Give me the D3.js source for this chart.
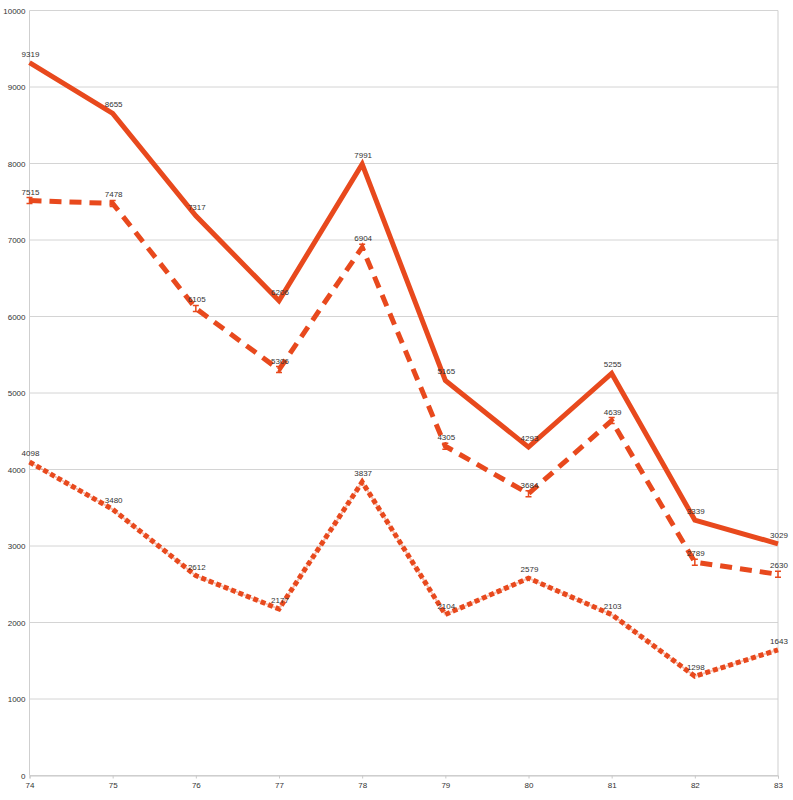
<!DOCTYPE html>
<html>
<head>
<meta charset="utf-8">
<script src="https://cdn.jsdelivr.net/npm/d3@7"></script>
<style>
  body { margin: 0; background: #fff; }
  text { font-family: "Liberation Sans", Arial, sans-serif; fill: #333; }
</style>
</head>
<body>
<div id="chart"></div>
<script>
// chart data
const years = ["74", "75", "76", "77", "78", "79", "80", "81", "82", "83"];
const seriesSolid = [9319, 8655, 7317, 6206, 7991, 5165, 4293, 5255, 3339, 3029];
const seriesDashed = [7515, 7478, 6105, 5306, 6904, 4305, 3684, 4639, 2789, 2630];
const seriesDotted = [4098, 3480, 2612, 2177, 3837, 2104, 2579, 2103, 1298, 1643];
const yTicks = [0, 1000, 2000, 3000, 4000, 5000, 6000, 7000, 8000, 9000, 10000];

const width = 793;
const height = 800;
const margin = { top: 10.5, right: 15, bottom: 24.5, left: 29.5 };
const color = "#e8491d";

const svg = d3.select("#chart").append("svg")
    .attr("width", width)
    .attr("height", height);

const x = d3.scalePoint()
    .domain(years)
    .range([margin.left, width - margin.right]);

const y = d3.scaleLinear()
    .domain([0, 10000])
    .range([height - margin.bottom, margin.top]);

// horizontal gridlines
svg.append("g")
    .selectAll("line")
    .data(yTicks)
    .enter()
    .append("line")
    .attr("x1", margin.left)
    .attr("x2", width - margin.right)
    .attr("y1", d => y(d))
    .attr("y2", d => y(d))
    .attr("stroke", "#d4d4d4")
    .attr("stroke-width", 1);

// left and right frame lines
svg.append("line")
    .attr("x1", margin.left).attr("x2", margin.left)
    .attr("y1", y(10000)).attr("y2", y(0))
    .attr("stroke", "#cfcfcf");
svg.append("line")
    .attr("x1", width - margin.right).attr("x2", width - margin.right)
    .attr("y1", y(10000)).attr("y2", y(0))
    .attr("stroke", "#cfcfcf");

// y axis labels
svg.append("g")
    .selectAll("text")
    .data(yTicks)
    .enter()
    .append("text")
    .attr("x", margin.left - 4)
    .attr("y", d => y(d) + 3)
    .attr("text-anchor", "end")
    .attr("font-size", 8)
    .text(d => d);

// x axis with small ticks
const xAxis = svg.append("g")
    .attr("transform", `translate(0,${y(0)})`)
    .call(d3.axisBottom(x).tickSize(3).tickPadding(4));
xAxis.select(".domain").attr("stroke", "#c8c8c8");
xAxis.selectAll(".tick line").attr("stroke", "#c8c8c8");
xAxis.selectAll(".tick text")
    .attr("font-size", 8)
    .attr("font-family", "Liberation Sans, Arial, sans-serif")
    .attr("fill", "#444");

const line = d3.line()
    .x((d, i) => x(years[i]))
    .y(d => y(d));

// dotted series: faint under-line then square dots
svg.append("path")
    .datum(seriesDotted)
    .attr("d", line)
    .attr("fill", "none")
    .attr("stroke", color)
    .attr("stroke-opacity", 0.35)
    .attr("stroke-width", 2);
svg.append("path")
    .datum(seriesDotted)
    .attr("d", line)
    .attr("fill", "none")
    .attr("stroke", color)
    .attr("stroke-width", 5)
    .attr("stroke-dasharray", "5,3");

// dashed series
svg.append("path")
    .datum(seriesDashed)
    .attr("d", line)
    .attr("fill", "none")
    .attr("stroke", color)
    .attr("stroke-width", 5)
    .attr("stroke-dasharray", "12,8");

// small I-shaped markers on the dashed series
svg.append("g")
    .selectAll("path")
    .data(seriesDashed)
    .enter()
    .append("path")
    .attr("d", (d, i) => {
        const cx = x(years[i]), cy = y(d);
        return `M${cx - 3},${cy - 3}H${cx + 3}M${cx},${cy - 3}V${cy + 3}M${cx - 3},${cy + 3}H${cx + 3}`;
    })
    .attr("stroke", color)
    .attr("stroke-width", 1.5)
    .attr("fill", "none");

// solid series
svg.append("path")
    .datum(seriesSolid)
    .attr("d", line)
    .attr("fill", "none")
    .attr("stroke", color)
    .attr("stroke-width", 5)
    .attr("stroke-linejoin", "miter");

// value labels
function addLabels(data) {
    svg.append("g")
        .selectAll("text")
        .data(data)
        .enter()
        .append("text")
        .attr("x", (d, i) => x(years[i]) + 1)
        .attr("y", d => y(d) - 6)
        .attr("text-anchor", "middle")
        .attr("font-size", 8)
        .text(d => d);
}
addLabels(seriesSolid);
addLabels(seriesDashed);
addLabels(seriesDotted);
</script>
</body>
</html>
